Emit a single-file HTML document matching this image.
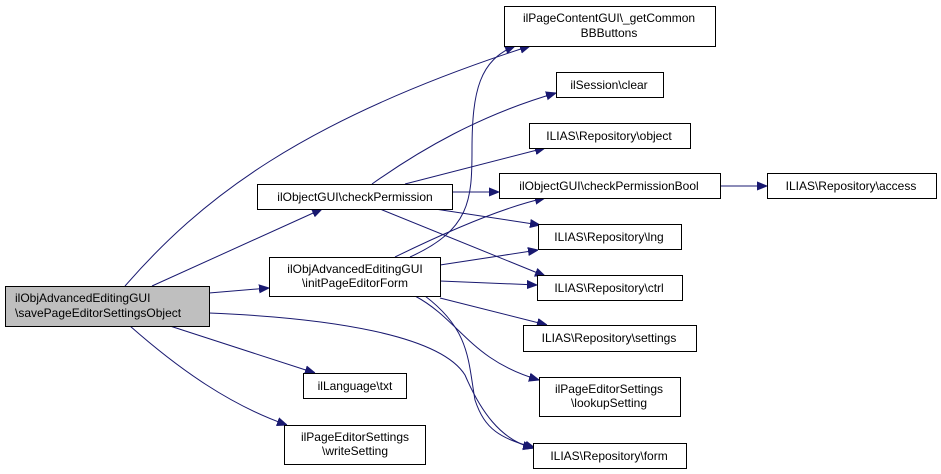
<!DOCTYPE html>
<html><head><meta charset="utf-8"><style>
html,body{margin:0;padding:0;background:#fff;}
svg{display:block;}
text{font-family:"Liberation Sans",Arial,sans-serif;font-size:12px;fill:#000;}
</style></head><body>
<svg width="941" height="474" viewBox="0 0 941 474" xmlns="http://www.w3.org/2000/svg">
<defs>
<marker id="a" viewBox="0 0 10 10" refX="10" refY="5" markerWidth="10" markerHeight="10" markerUnits="userSpaceOnUse" orient="auto">
<path d="M0,1 L10,5 L0,9 z" fill="#191970" stroke="#191970"/>
</marker>
</defs>
<g fill="none" stroke="#191970" stroke-width="1" marker-end="url(#a)">
<path d="M125,286 C200,200 300,120 530,46"/>
<path d="M152,286 L322,209"/>
<path d="M209,293 L269,288"/>
<path d="M209,313 C330,318 440,335 465,375 C480,410 500,440 533,448"/>
<path d="M170,326 L315,373"/>
<path d="M130,326 C180,370 230,405 287,425"/>
<path d="M372,184 C420,150 480,115 556,93"/>
<path d="M405,184 L545,148"/>
<path d="M452,192 L499,192"/>
<path d="M435,209 L540,225"/>
<path d="M380,209 L545,276"/>
<path d="M395,257 C440,235 500,208 545,198"/>
<path d="M410,257 C470,230 472,200 472,150 C472,90 480,60 515,46"/>
<path d="M440,265 L538,250"/>
<path d="M440,281 L537,285"/>
<path d="M440,298 L547,325"/>
<path d="M415,296 C460,320 470,360 539,380"/>
<path d="M425,296 C470,330 468,360 475,400 C485,430 500,438 535,448"/>
<path d="M720,186 L767,186"/>
</g>
<g stroke="#000" stroke-width="1">
<rect x="5.5" y="286.5" width="204" height="40" fill="#bfbfbf"/>
<rect x="257.5" y="184.5" width="195" height="25" fill="#fff"/>
<rect x="269.5" y="257.5" width="171" height="39" fill="#fff"/>
<rect x="303.5" y="373.5" width="103" height="25" fill="#fff"/>
<rect x="284.5" y="425.5" width="141" height="39" fill="#fff"/>
<rect x="504.5" y="6.5" width="211" height="40" fill="#fff"/>
<rect x="556.5" y="72.5" width="107" height="25" fill="#fff"/>
<rect x="529.5" y="123.5" width="161" height="25" fill="#fff"/>
<rect x="499.5" y="173.5" width="221" height="25" fill="#fff"/>
<rect x="767.5" y="173.5" width="169" height="25" fill="#fff"/>
<rect x="538.5" y="224.5" width="143" height="25" fill="#fff"/>
<rect x="537.5" y="275.5" width="145" height="25" fill="#fff"/>
<rect x="523.5" y="325.5" width="173" height="26" fill="#fff"/>
<rect x="539.5" y="377.5" width="141" height="39" fill="#fff"/>
<rect x="533.5" y="443.5" width="153" height="25" fill="#fff"/>
</g>
<text x="15" y="302">ilObjAdvancedEditingGUI</text>
<text x="15" y="317">\savePageEditorSettingsObject</text>
<g text-anchor="middle">
<text x="355" y="201">ilObjectGUI\checkPermission</text>
<text x="355" y="273">ilObjAdvancedEditingGUI</text>
<text x="355" y="287">\initPageEditorForm</text>
<text x="355" y="390">ilLanguage\txt</text>
<text x="355" y="441">ilPageEditorSettings</text>
<text x="355" y="455">\writeSetting</text>
<text x="609" y="22">ilPageContentGUI\_getCommon</text>
<text x="609" y="37">BBButtons</text>
<text x="609" y="89">ilSession\clear</text>
<text x="609" y="140">ILIAS\Repository\object</text>
<text x="609" y="190">ilObjectGUI\checkPermissionBool</text>
<text x="851" y="190">ILIAS\Repository\access</text>
<text x="609" y="241">ILIAS\Repository\lng</text>
<text x="609" y="292">ILIAS\Repository\ctrl</text>
<text x="609" y="342">ILIAS\Repository\settings</text>
<text x="609" y="393">ilPageEditorSettings</text>
<text x="609" y="407">\lookupSetting</text>
<text x="609" y="460">ILIAS\Repository\form</text>
</g>
</svg>
</body></html>
